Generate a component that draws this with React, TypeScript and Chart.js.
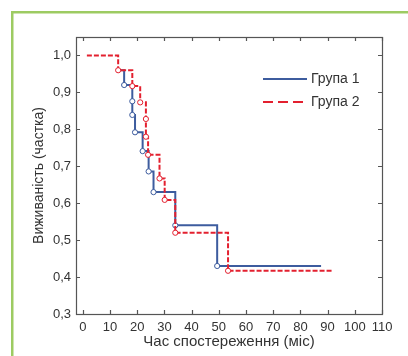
import React, { useEffect, useRef } from "react";
import { Chart, registerables } from "chart.js";
Chart.register(...registerables);

// Kaplan–Meier steps: time of each step (months) and survival after the step
const group1Times = [13, 15.2, 18.2, 18.2, 19.2, 22, 24.2, 26, 34, 49.4, 87.6];
const group1Surv = [0.96, 0.92, 0.876, 0.839, 0.792, 0.741, 0.686, 0.63, 0.54, 0.43, 0.43];
const group2Times = [1.5, 13, 18.2, 21.1, 23.2, 23.2, 24, 28.2, 30.1, 34, 53.4, 92.1];
const group2Surv = [1.0, 0.96, 0.917, 0.873, 0.828, 0.78, 0.731, 0.667, 0.609, 0.52, 0.417, 0.417];

const seriesNames = ["Група 1", "Група 2"];
const xTickValues = [0, 10, 20, 30, 40, 50, 60, 70, 80, 90, 100, 110];
const yTickValues = [0.3, 0.4, 0.5, 0.6, 0.7, 0.8, 0.9, 1.0];
const xTitle = "Час спостереження (міс)";
const yTitle = "Виживаність (частка)";

const BLUE = "#3d5c9e";
const RED = "#e3202f";
const TEXT = "#333333";
const FONT = "'Liberation Sans', Arial, sans-serif";

const decorPlugin = {
  id: "decor",
  beforeDraw(chart: any) {
    const ctx = chart.ctx;
    ctx.save();
    ctx.fillStyle = "#ffffff";
    ctx.fillRect(0, 0, chart.width, chart.height);
    ctx.strokeStyle = "#9dcb62";
    ctx.lineWidth = 2.5;
    ctx.beginPath();
    ctx.moveTo(12.25, chart.height);
    ctx.lineTo(12.25, 12.25);
    ctx.lineTo(chart.width, 12.25);
    ctx.stroke();
    ctx.restore();
  },
  afterDraw(chart: any) {
    const ctx = chart.ctx;
    const { left, right, top, bottom } = chart.chartArea;
    const xs = chart.scales.x;
    const ys = chart.scales.y;
    ctx.save();
    ctx.strokeStyle = "#555555";
    ctx.lineWidth = 1.2;
    ctx.strokeRect(left + 0.5, top + 0.5, right - left, bottom - top);
    ctx.beginPath();
    const tl = 4;
    xTickValues.forEach((v) => {
      const px = Math.round(xs.getPixelForValue(v)) + 0.5;
      ctx.moveTo(px, bottom);
      ctx.lineTo(px, bottom - tl);
      ctx.moveTo(px, top);
      ctx.lineTo(px, top + tl);
    });
    yTickValues.forEach((v) => {
      const py = Math.round(ys.getPixelForValue(v)) + 0.5;
      ctx.moveTo(left, py);
      ctx.lineTo(left + tl, py);
      ctx.moveTo(right, py);
      ctx.lineTo(right - tl, py);
    });
    ctx.stroke();

    // legend
    const lx0 = 263;
    const lx1 = 307;
    const rows = [
      { y: 79, color: BLUE, dash: [] as number[] },
      { y: 102, color: RED, dash: [10, 5] },
    ];
    ctx.font = `14px ${FONT}`;
    ctx.textBaseline = "middle";
    ctx.textAlign = "left";
    rows.forEach((r, i) => {
      ctx.strokeStyle = r.color;
      ctx.lineWidth = 2;
      ctx.setLineDash(r.dash);
      ctx.beginPath();
      ctx.moveTo(lx0, r.y);
      ctx.lineTo(lx1, r.y);
      ctx.stroke();
      ctx.setLineDash([]);
      ctx.fillStyle = TEXT;
      ctx.fillText(seriesNames[i], lx1 + 4, r.y);
    });
    ctx.restore();
  },
};

export default function App() {
  const ref = useRef<HTMLCanvasElement>(null);
  useEffect(() => {
    if (!ref.current) return;
    const pts = (t: number[], s: number[]) => t.map((x, i) => ({ x, y: s[i] }));
    const radius = (n: number) => (c: any) => (c.dataIndex === 0 || c.dataIndex === n - 1 ? 0 : 2.6);
    const chart = new Chart(ref.current, {
      type: "line",
      data: {
        datasets: [
          {
            label: seriesNames[0],
            data: pts(group1Times, group1Surv),
            stepped: "before",
            borderColor: BLUE,
            borderWidth: 2,
            pointRadius: radius(group1Times.length),
            pointBackgroundColor: "#ffffff",
            pointBorderColor: BLUE,
            pointBorderWidth: 1,
            order: 2,
          },
          {
            label: seriesNames[1],
            data: pts(group2Times, group2Surv),
            stepped: "before",
            borderColor: RED,
            borderWidth: 2,
            borderDash: [5, 2],
            pointRadius: radius(group2Times.length),
            pointBackgroundColor: "#ffffff",
            pointBorderColor: RED,
            pointBorderWidth: 1,
            order: 1,
          },
        ],
      },
      options: {
        animation: false,
        responsive: false,
        devicePixelRatio: 1,
        layout: { padding: { top: 37, right: 26, left: 0, bottom: 0 } },
        plugins: { legend: { display: false }, tooltip: { enabled: false } },
        scales: {
          x: {
            type: "linear",
            min: -2.5,
            max: 110,
            grid: { display: false, drawTicks: false },
            border: { display: false },
            afterBuildTicks: (s: any) => {
              s.ticks = xTickValues.map((v) => ({ value: v }));
            },
            afterFit: (s: any) => {
              s.height = 42;
            },
            ticks: {
              autoSkip: false,
              maxRotation: 0,
              padding: 6,
              color: TEXT,
              font: { family: FONT, size: 13 },
              callback: (v: any) => String(v),
            },
            title: {
              display: true,
              text: xTitle,
              color: TEXT,
              font: { family: FONT, size: 15 },
              padding: { top: 0, bottom: 5 },
            },
          },
          y: {
            type: "linear",
            min: 0.3,
            max: 1.05,
            grid: { display: false, drawTicks: false },
            border: { display: false },
            afterBuildTicks: (s: any) => {
              s.ticks = yTickValues.map((v) => ({ value: v }));
            },
            afterFit: (s: any) => {
              s.width = 76;
            },
            ticks: {
              autoSkip: false,
              padding: 5,
              color: TEXT,
              font: { family: FONT, size: 13 },
              callback: (v: any) => Number(v).toFixed(1).replace(".", ","),
            },
            title: {
              display: true,
              text: yTitle,
              color: TEXT,
              font: { family: FONT, size: 14 },
              padding: { top: 31, bottom: 0 },
            },
          },
        },
      },
      plugins: [decorPlugin],
    });
    return () => chart.destroy();
  }, []);
  return (
    <div style={{ position: "fixed", left: 0, top: 0, width: 408, height: 356 }}>
      <canvas ref={ref} width={408} height={356} style={{ display: "block" }} />
    </div>
  );
}
